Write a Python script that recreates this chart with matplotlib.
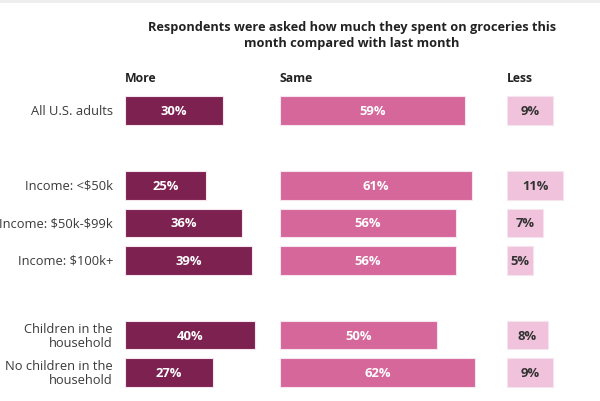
import numpy as np
import matplotlib
matplotlib.use("Agg")
import matplotlib.pyplot as plt
from matplotlib.patches import Rectangle

plt.rcParams['font.family'] = ['Open Sans', 'DejaVu Sans']

# data
groups = ['All U.S. adults', 'Income: <\\$50k', 'Income: \\$50k-\\$99k',
          'Income: \\$100k+', 'Children in the\nhousehold',
          'No children in the\nhousehold']
rows = [0, 2, 3, 4, 6, 7]
more = [30, 25, 36, 39, 40, 27]
same = [59, 61, 56, 56, 50, 62]
less = [9, 11, 7, 5, 8, 9]
headers = ['More', 'Same', 'Less']
title = ['Respondents were asked how much they spent on groceries this',
         'month compared with last month']

W, H = 600, 402
fig = plt.figure(figsize=(W / 100, H / 100), dpi=100)
fig.patch.set_facecolor('white')

# faint grey strip at the very top
fig.patches.append(Rectangle((0, 1 - 4 / H), 1, 4 / H, transform=fig.transFigure,
                             facecolor='#eeeeee', edgecolor='none'))

top_px, bot_px = 93.0, 392.2


def make_ax(left_px, width_px, px_per_pct):
    ax = fig.add_axes([left_px / W, 1 - bot_px / H, width_px / W, (bot_px - top_px) / H])
    ax.set_xlim(0, width_px / px_per_pct)
    ax.set_ylim(7.5, -0.5)
    ax.axis('off')
    return ax


ax_more = make_ax(125, 140, 3.25)
ax_same = make_ax(280, 205, 3.14)
ax_less = make_ax(506.7, 80, 5.16)

cols = [(ax_more, more, '#7d2150', 'white'),
        (ax_same, same, '#d6679b', 'white'),
        (ax_less, less, '#f0c2db', '#333333')]

for i, (ax, vals, color, tcolor) in enumerate(cols):
    ax.barh(rows, vals, height=0.76, color=color, edgecolor='#f6e4ee', linewidth=0.8)
    for r, v in zip(rows, vals):
        ax.text(v / 2, r, f'{v}%', ha='center', va='center', color=tcolor,
                fontsize=9.4, fontweight='bold')
    ax.text(0, -0.9, headers[i], ha='left', va='center', fontsize=8.8,
            fontweight='bold', color='#222222', clip_on=False)

for r, g in zip(rows, groups):
    ax_more.annotate(g, xy=(0, r), xycoords=('axes fraction', 'data'),
                     xytext=(-12, 0), textcoords='offset pixels',
                     ha='right', va='center', fontsize=9.3, color='#3a3a3a',
                     linespacing=1.1, annotation_clip=False)

fig.text(352 / W, 1 - 27 / H, title[0], ha='center', va='center',
         fontsize=9.2, fontweight='bold', color='#222222')
fig.text(352 / W, 1 - 44 / H, title[1], ha='center', va='center',
         fontsize=9.2, fontweight='bold', color='#222222')

fig.savefig('out.png', dpi=100, facecolor='white')
